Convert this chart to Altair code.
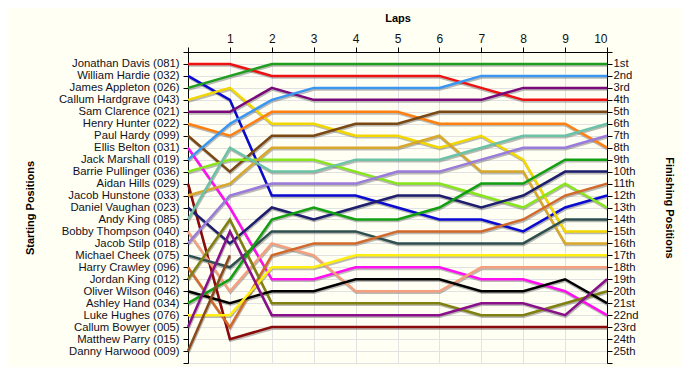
import json
import altair as alt
import pandas as pd

laps = list(range(11))

drivers = [
    "Jonathan Davis (081)", "William Hardie (032)", "James Appleton (026)",
    "Callum Hardgrave (043)", "Sam Clarence (021)", "Henry Hunter (022)",
    "Paul Hardy (099)", "Ellis Belton (031)", "Jack Marshall (019)",
    "Barrie Pullinger (036)", "Aidan Hills (029)", "Jacob Hunstone (033)",
    "Daniel Vaughan (023)", "Andy King (085)", "Bobby Thompson (040)",
    "Jacob Stilp (018)", "Michael Cheek (075)", "Harry Crawley (096)",
    "Jordan King (012)", "Oliver Wilson (046)", "Ashley Hand (034)",
    "Luke Hughes (076)", "Callum Bowyer (005)", "Matthew Parry (015)",
    "Danny Harwood (009)",
]

colors = [
    "#EE1111", "#0A0AD0", "#1E9E1E", "#F2D600", "#7A0A7A", "#FF8010",
    "#7A4812", "#FF10F0", "#3A96F0", "#86E61A", "#8B0A0A", "#D8A82A",
    "#1E1E6E", "#6CC2A6", "#F4A07E", "#9A7ADA", "#2F4F4F", "#D2692A",
    "#808010", "#000000", "#12A012", "#FFEE10", "#8A108A", "#A05020",
    "#8B4A1A",
]

# position of each driver after each lap (lap 0 = start); empty = no data
positions = [
    [1, 1, 2, 2, 2, 2, 2, 3, 4, 4, 4],
    [2, 4, 12, 12, 12, 13, 14, 14, 15, 13, 12],
    [3, 2, 1, 1, 1, 1, 1, 1, 1, 1, 1],
    [4, 3, 6, 6, 7, 7, 8, 7, 9, 15, 15],
    [5, 5, 3, 4, 4, 4, 4, 4, 3, 3, 3],
    [6, 7, 5, 5, 5, 5, 6, 6, 6, 6, 8],
    [7, 10, 7, 7, 6, 6, 5, 5, 5, 5, 5],
    [8, 13, 19, 19, 18, 18, 18, 19, 19, 20, 22],
    [9, 6, 4, 3, 3, 3, 3, 2, 2, 2, 2],
    [10, 9, 9, 9, 10, 11, 11, 12, 13, 11, 13],
    [11, 24, 23, 23, 23, 23, 23, 23, 23, 23, 23],
    [12, 11, 8, 8, 8, 8, 7, 10, 10, 16, 16],
    [13, 16, 13, 14, 13, 12, 12, 13, 12, 10, 10],
    [14, 8, 10, 10, 9, 9, 9, 8, 7, 7, 6],
    [15, 20, 16, 17, 20, 20, 20, 18, 18, 18, 18],
    [16, 12, 11, 11, 11, 10, 10, 9, 8, 8, 7],
    [17, 18, 15, 15, 15, 16, 16, 16, 16, 14, 14],
    [18, 23, 17, 16, 16, 15, 15, 15, 14, 12, 11],
    [19, 14, 21, 21, 21, 21, 21, 22, 22, 21, 20],
    [20, 21, 20, 20, 19, 19, 19, 20, 20, 19, 21],
    [21, 19, 14, 13, 14, 14, 13, 11, 11, 9, 9],
    [22, 22, 18, 18, 17, 17, 17, 17, 17, 17, 17],
    [23, 15, 22, 22, 22, 22, 22, 21, 21, 22, 19],
    [],
    [25, 17],
]

finish_labels = [
    "1st", "2nd", "3rd", "4th", "5th", "6th", "7th", "8th", "9th", "10th",
    "11th", "12th", "13th", "14th", "15th", "16th", "17th", "18th", "19th",
    "20th", "21st", "22nd", "23rd", "24th", "25th",
]

rows = []
for i, (d, ps) in enumerate(zip(drivers, positions)):
    for lap, p in zip(laps, ps):
        rows.append({"driver": d, "idx": i, "lap": lap, "pos": p})
df = pd.DataFrame(rows)

left_arr = json.dumps([""] + drivers + [""])
right_arr = json.dumps([""] + finish_labels + [""])
pos_ticks = list(range(0, 27))

W, H = 419, 311

x_enc = alt.X(
    "lap:Q",
    scale=alt.Scale(domain=[0, 10], nice=False, zero=False),
    axis=alt.Axis(
        orient="top", values=laps, title="Laps",
        labelExpr="datum.value == 0 ? '' : datum.value",
        grid=True, gridColor="#E2E2E2", domainColor="#000000",
        tickColor="#000000", tickSize=5, labelFontSize=12, labelPadding=2,
        labelColor="#111111", titleFontSize=11, titleFontWeight="bold",
        titleX=W / 2, titleY=-34, titleBaseline="middle",
    ),
)

y_scale = alt.Scale(domain=[0, 26], reverse=True, nice=False, zero=False)

y_left = alt.Y(
    "pos:Q", scale=y_scale,
    axis=alt.Axis(
        orient="left", values=pos_ticks, title="Starting Positions",
        labelExpr=left_arr + "[datum.value]",
        grid=True, gridColor="#E2E2E2", domainColor="#000000",
        tickColor="#000000", tickSize=5, labelFontSize=11.3, labelPadding=4,
        labelColor="#111122", labelOverlap=False,
        titleFontSize=11, titleFontWeight="bold", titleAngle=-90,
        titleX=-158, titleY=H / 2, titleAlign="center", titleBaseline="middle",
    ),
)

y_right = alt.Y(
    "pos:Q", scale=y_scale,
    axis=alt.Axis(
        orient="right", values=pos_ticks, title="Finishing Positions",
        labelExpr=right_arr + "[datum.value]",
        grid=False, domainColor="#000000",
        tickColor="#000000", tickSize=5, labelFontSize=11.3, labelPadding=1,
        labelColor="#111122", labelOverlap=False,
        titleFontSize=11, titleFontWeight="bold", titleAngle=90,
        titleX=61, titleY=H / 2, titleAlign="center", titleBaseline="middle",
    ),
)

shadow = alt.Chart(df).mark_line(
    strokeWidth=2.5, color="#666666", opacity=0.45, yOffset=1.6, xOffset=0.6
).encode(
    x=x_enc, y=y_left, detail="driver:N", order="lap:Q"
)

lines = alt.Chart(df).mark_line(strokeWidth=2.5).encode(
    x=x_enc, y=y_right,
    color=alt.Color("driver:N", scale=alt.Scale(domain=drivers, range=colors), legend=None),
    order="lap:Q",
)

chart = alt.layer(shadow, lines).resolve_axis(y="independent").properties(
    width=W, height=H,
    autosize=alt.AutoSizeParams(type="none"),
    padding={"left": 180, "top": 44, "right": 75, "bottom": 4},
    background="#FFFFF4",
).configure_view(stroke=None, fill="#FFFFFB").configure(font="Liberation Sans")

chart.save("out.html", embed_options={"renderer": "svg", "actions": False})
